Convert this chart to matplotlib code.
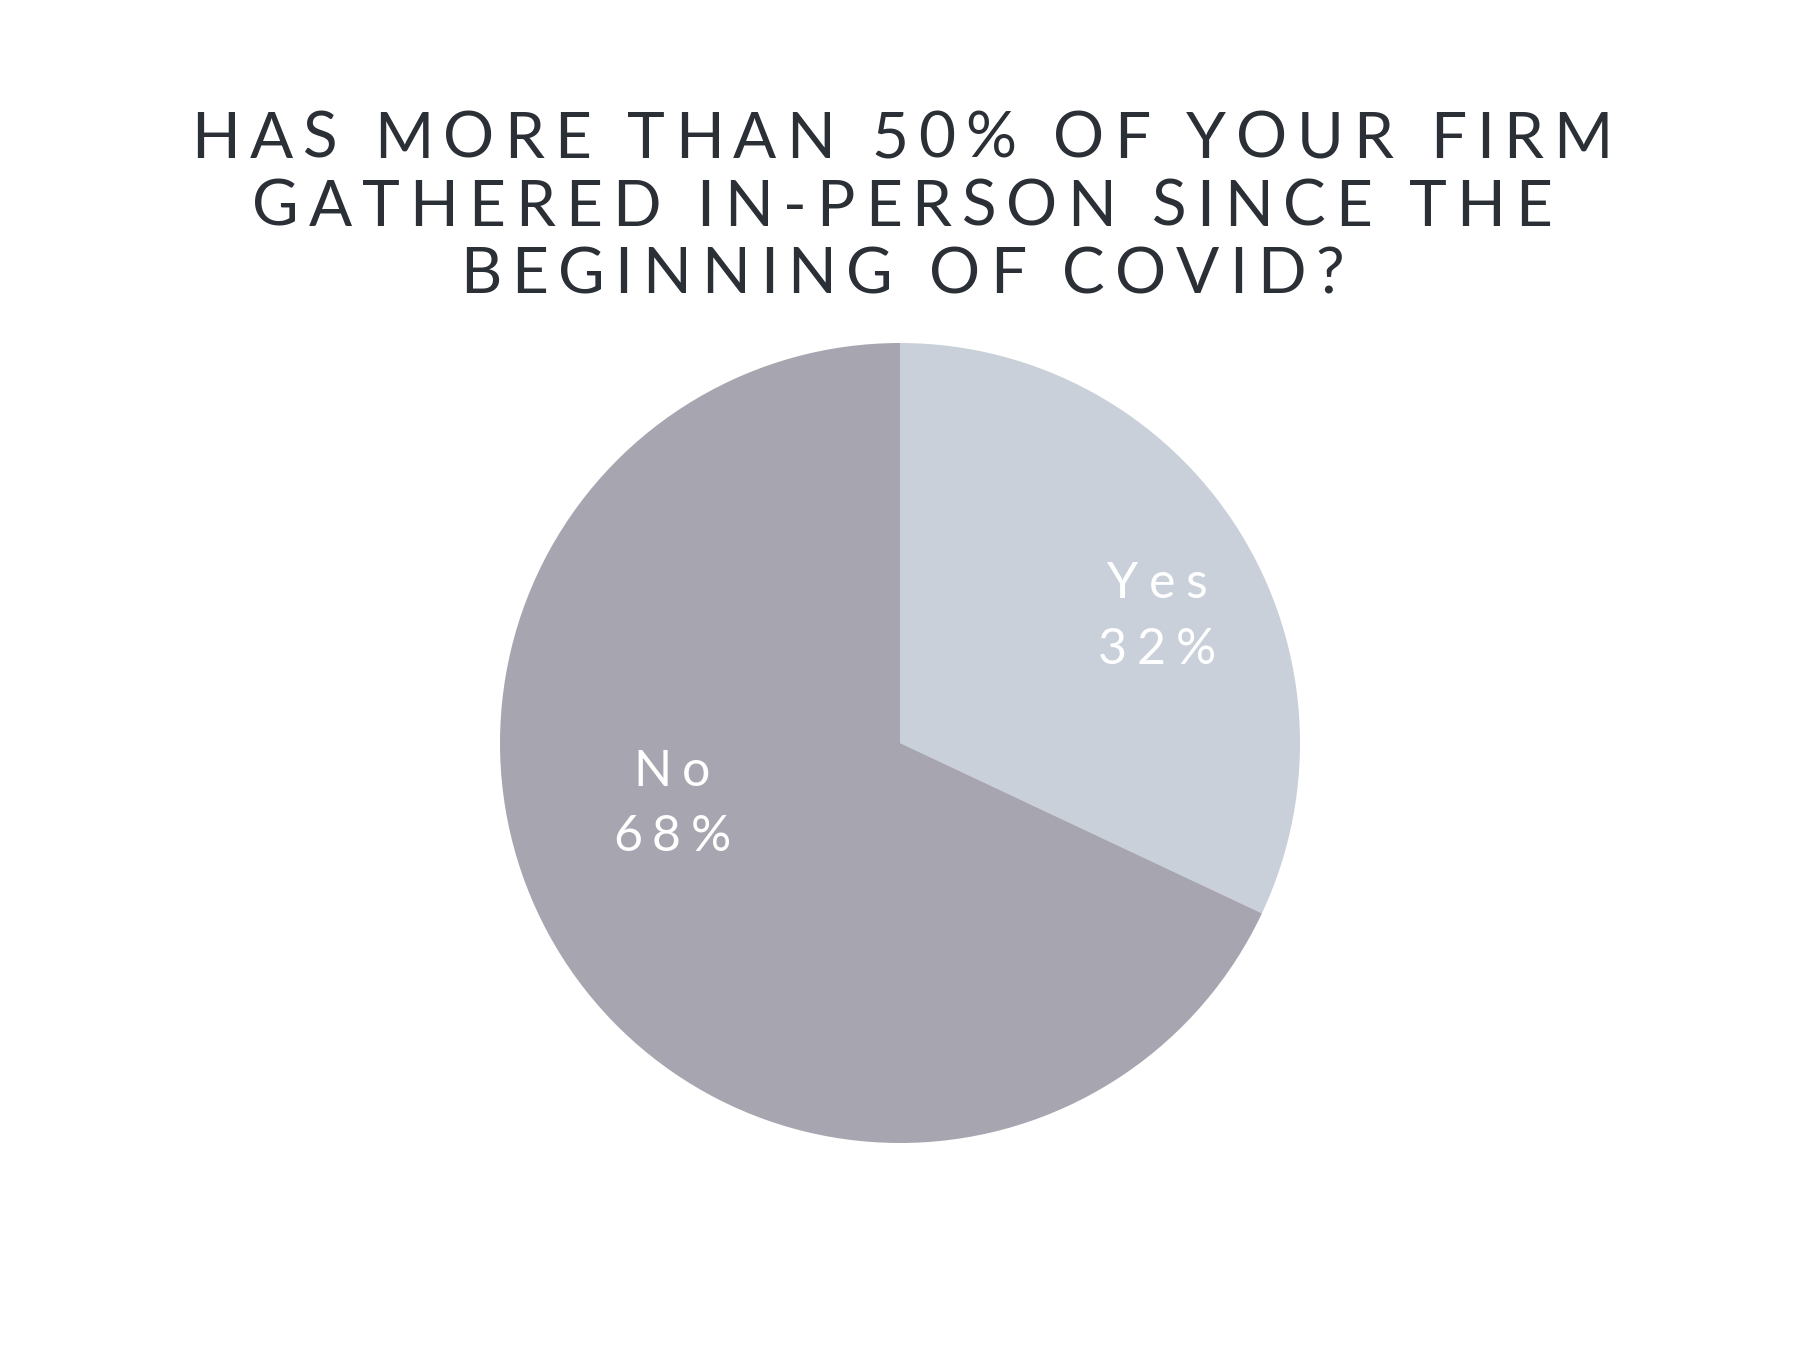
import matplotlib.pyplot as plt
from matplotlib.font_manager import FontProperties, findfont
from matplotlib.ft2font import FT2Font

labels = ["Yes", "No"]
shares = [32, 68]
colors = ["#CAD0DA", "#A7A6B0"]
title_lines = ["HAS MORE THAN 50% OF YOUR FIRM",
               "GATHERED IN-PERSON SINCE THE",
               "BEGINNING OF COVID?"]

W, H, DPI = 1800, 1350, 100
fig = plt.figure(figsize=(W / DPI, H / DPI), dpi=DPI)
fig.patch.set_facecolor("white")


def tracked(s, cx, baseline, size, track_em, fp, color):
    # draw a line with extra letter spacing, centred on cx (pixels)
    font = FT2Font(findfont(fp))
    font.set_size(size, DPI)
    adv = [font.load_char(ord(c)).linearHoriAdvance / 65536 for c in s]
    track = track_em * size * DPI / 72
    total = sum(adv) + track * (len(s) - 1)
    x = cx - total / 2
    for c, a in zip(s, adv):
        if c != " ":
            fig.text(x / W, 1 - baseline / H, c, ha="left", va="baseline",
                     fontproperties=fp, fontsize=size, color=color)
        x += a + track


title_fp = FontProperties(family="Lato", weight="normal")
for line, base in zip(title_lines, [158, 226, 293]):
    tracked(line, 902, base, 46, 0.155, title_fp, "#2B2F36")

# pie axes: centre (900, 743) px, radius 400 px
ax = fig.add_axes([500 / W, 207 / H, 800 / W, 800 / H])
ax.pie(shares, colors=colors, startangle=90, counterclock=False,
       radius=1, wedgeprops=dict(linewidth=0))
ax.set_xlim(-1, 1)
ax.set_ylim(-1, 1)
ax.set_aspect("equal")
ax.axis("off")

# labels inside the slices
label_fp = FontProperties(family="Lato", weight="normal")
label_pos = [(1157, 598, 664), (672, 786, 851)]
for lab, val, (cx, b1, b2) in zip(labels, shares, label_pos):
    tracked(lab, cx, b1, 36, 0.2, label_fp, "white")
    tracked(f"{val}%", cx, b2, 36, 0.2, label_fp, "white")

fig.savefig("out.png", dpi=DPI, facecolor="white")
